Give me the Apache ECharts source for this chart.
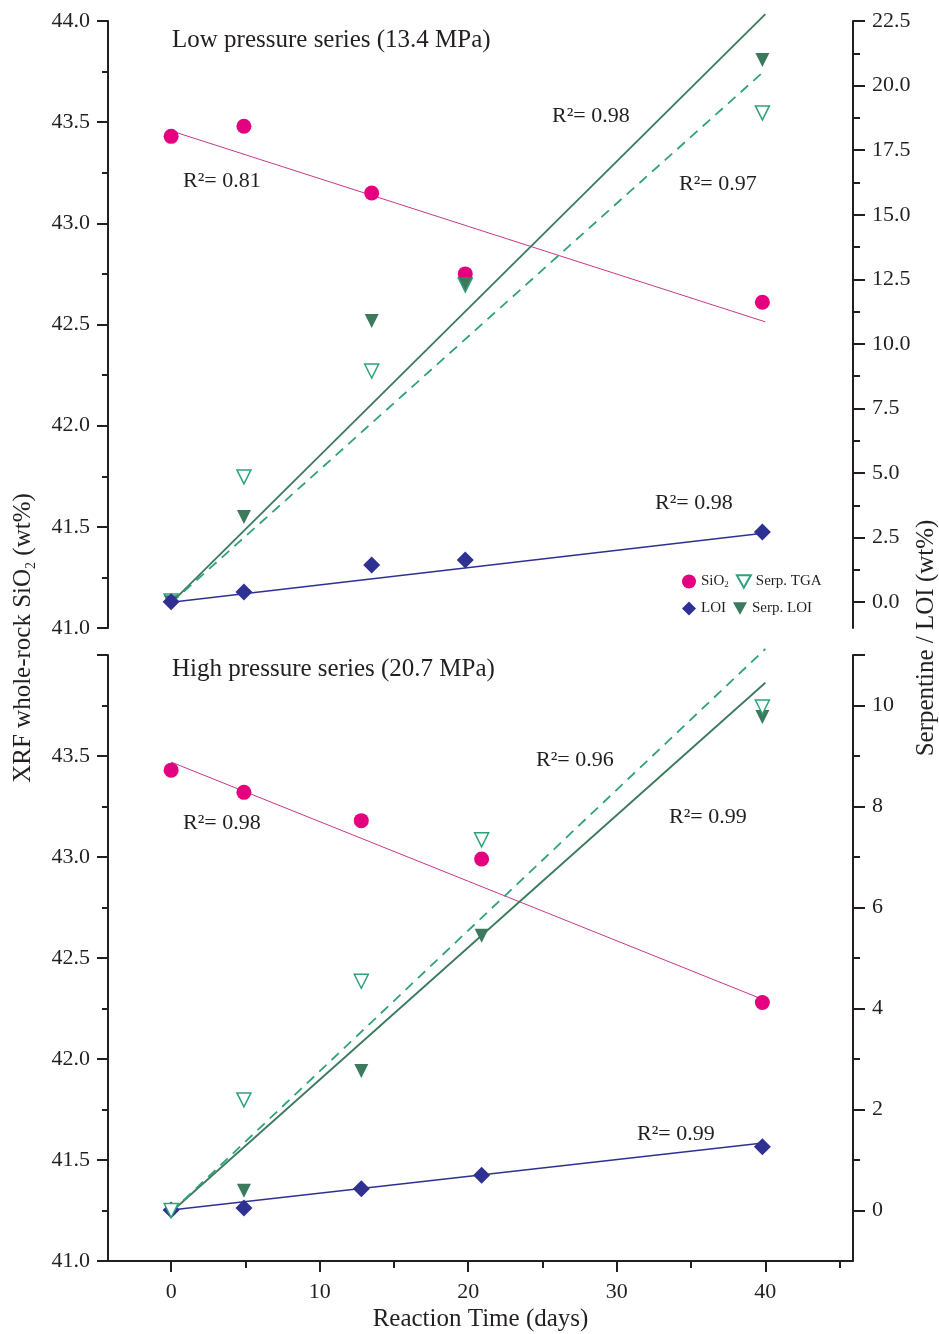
<!DOCTYPE html>
<html><head><meta charset="utf-8">
<script src="https://cdn.jsdelivr.net/npm/echarts@6/dist/echarts.min.js"></script>
<style>html,body{margin:0;padding:0;background:#fff}#c{width:939px;height:1334px}</style>
</head><body><div id="c"></div>
<script>
// ---- data ----
const lowDays = [0, 4.9, 13.5, 19.8, 39.8];
const lowSiO2 = [43.43, 43.48, 43.15, 42.75, 42.61];
const lowLOI = [0.02, 0.39, 1.44, 1.63, 2.72];
const lowSerpTGA = [0.05, 4.85, 8.95, 12.28, 18.94];
const lowSerpLOI = [0.0, 3.30, 10.89, 12.32, 20.99];

const highDays = [0, 4.9, 12.8, 20.9, 39.8];
const highSiO2 = [43.43, 43.32, 43.18, 42.99, 42.28];
const highLOI = [0.01, 0.05, 0.43, 0.70, 1.26];
const highSerpTGA = [0.0, 2.19, 4.54, 7.34, 9.97];
const highSerpLOI = [0.0, 0.39, 2.76, 5.44, 9.77];

// fitted trend lines, value at day 0 and day 40
const fitDays = [0, 40];
const lowFitSiO2 = [43.457, 42.513];
const lowFitLOI = [0.0, 2.68];
const lowFitSerpLOI = [-0.03, 22.77];
const lowFitSerpTGA = [-0.03, 20.6];
const highFitSiO2 = [43.47, 42.29];
const highFitLOI = [0.01, 1.34];
const highFitSerpLOI = [-0.03, 10.45];
const highFitSerpTGA = [-0.03, 11.12];

// tick labels
const xMajor = [0, 10, 20, 30, 40];
const xMinor = [5, 15, 25, 35, 45];
const lowRightMajor = [0, 2.5, 5, 7.5, 10, 12.5, 15, 17.5, 20, 22.5];
const lowRightMinor = [1.25, 3.75, 6.25, 8.75, 11.25, 13.75, 16.25, 18.75, 21.25];
const highRightLabels = [0, 2, 4, 6, 8, 10];
const highRightMajor = [0, 2, 4, 6, 8, 10, 11];
const highRightMinor = [1, 3, 5, 7, 9];

const lowR2 = ['R²= 0.81', 'R²= 0.98', 'R²= 0.97', 'R²= 0.98'];
const highR2 = ['R²= 0.98', 'R²= 0.96', 'R²= 0.99', 'R²= 0.99'];

// ---- styling ----
const FONT = 'Liberation Serif';
const AX = '#231f20';
const C_SIO2 = '#e4007f', C_SIO2_LINE = '#c8388a';
const C_LOI = '#2e3192';
const C_SLOI = '#3b7a5c';
const C_STGA = '#2fa27a';

const pair = (xs, ys) => xs.map((x, i) => [x, ys[i]]);

const grids = [
  {left: 108, right: 86, top: 21, height: 607, outerBoundsMode: 'none', containLabel: false},
  {left: 108, right: 86, top: 655, height: 606, outerBoundsMode: 'none', containLabel: false}
];

const xBase = {type: 'value', min: -4.25, max: 45.9, splitLine: {show: false}};
const xAxes = [
  Object.assign({}, xBase, {gridIndex: 0, show: false}),
  Object.assign({}, xBase, {
    gridIndex: 1, position: 'bottom',
    axisLine: {show: true, onZero: false, lineStyle: {color: AX, width: 2}},
    axisTick: {show: true, inside: false, length: 11, customValues: xMajor, lineStyle: {color: AX, width: 2}},
    axisLabel: {show: true, customValues: xMajor, margin: 20, color: AX, fontFamily: FONT, fontSize: 22},
    name: 'Reaction Time (days)', nameLocation: 'middle', nameGap: 46,
    nameTextStyle: {color: AX, fontFamily: FONT, fontSize: 25}
  }),
  Object.assign({}, xBase, {
    gridIndex: 1, position: 'bottom',
    axisLine: {show: false, onZero: false},
    axisTick: {show: true, length: 7, customValues: xMinor, lineStyle: {color: AX, width: 2}},
    axisLabel: {show: false}
  })
];

function leftAxis(gi, showMax) {
  return {
    type: 'value', gridIndex: gi, position: 'left', min: 41, max: 44, interval: 0.5,
    splitLine: {show: false},
    axisLine: {show: true, onZero: false, lineStyle: {color: AX, width: 2}},
    axisTick: {show: true, length: 11, lineStyle: {color: AX, width: 2}},
    minorTick: {show: true, splitNumber: 2, length: 6, lineStyle: {color: AX, width: 2}},
    axisLabel: {color: AX, fontFamily: FONT, fontSize: 22, margin: 18, showMaxLabel: showMax,
      formatter: v => v.toFixed(1)}
  };
}
function rightAxis(gi, min, max, major, labels, dec) {
  return {
    type: 'value', gridIndex: gi, position: 'right', offset: 0, min: min, max: max,
    splitLine: {show: false},
    axisLine: {show: true, onZero: false, lineStyle: {color: AX, width: 2}},
    axisTick: {show: true, length: 12, customValues: major, lineStyle: {color: AX, width: 2}},
    axisLabel: {color: AX, fontFamily: FONT, fontSize: 22, margin: 19, customValues: labels,
      formatter: v => v.toFixed(dec)}
  };
}
function rightMinor(gi, min, max, minor) {
  return {
    type: 'value', gridIndex: gi, position: 'right', offset: 0, min: min, max: max,
    splitLine: {show: false},
    axisLine: {show: false, onZero: false},
    axisTick: {show: true, length: 7, customValues: minor, lineStyle: {color: AX, width: 2}},
    axisLabel: {show: false}
  };
}

const yAxes = [
  leftAxis(0, true),
  rightAxis(0, -1, 22.5, lowRightMajor, lowRightMajor, 1),
  leftAxis(1, false),
  rightAxis(1, -1, 11, highRightMajor, highRightLabels, 0),
  rightMinor(0, -1, 22.5, lowRightMinor),
  rightMinor(1, -1, 11, highRightMinor)
];

function fitLine(xi, yi, vals, color, width, type) {
  return {type: 'line', xAxisIndex: xi, yAxisIndex: yi, data: pair(fitDays, vals),
    symbol: 'none', clip: false, silent: true, z: 2,
    lineStyle: {color: color, width: width, type: type}};
}
function pts(name, xi, yi, days, vals, symbol, size, style, rot) {
  return {type: 'scatter', name: name, xAxisIndex: xi, yAxisIndex: yi, data: pair(days, vals),
    symbol: symbol, symbolSize: size, symbolRotate: rot || 0, itemStyle: style, z: 5, clip: false};
}
const sSiO2 = {color: C_SIO2, opacity: 1};
const sLOI = {color: C_LOI, opacity: 1};
const sSLOI = {color: C_SLOI, opacity: 1};
const sSTGA = {color: '#ffffff', borderColor: C_STGA, borderWidth: 1.5, opacity: 1};

const series = [
  // low pressure
  fitLine(0, 0, lowFitSiO2, C_SIO2_LINE, 1, 'solid'),
  fitLine(0, 1, lowFitLOI, C_LOI, 1.5, 'solid'),
  fitLine(0, 1, lowFitSerpLOI, C_SLOI, 1.8, 'solid'),
  fitLine(0, 1, lowFitSerpTGA, C_STGA, 1.8, [10, 7]),
  pts('SiO2', 0, 0, lowDays, lowSiO2, 'circle', 15, sSiO2),
  pts('Serp. TGA', 0, 1, lowDays, lowSerpTGA, 'triangle', 14, sSTGA, 180),
  pts('Serp. LOI', 0, 1, lowDays, lowSerpLOI, 'triangle', 14, sSLOI, 180),
  pts('LOI', 0, 1, lowDays, lowLOI, 'diamond', 17, sLOI),
  // high pressure
  fitLine(1, 2, highFitSiO2, C_SIO2_LINE, 1, 'solid'),
  fitLine(1, 3, highFitLOI, C_LOI, 1.5, 'solid'),
  fitLine(1, 3, highFitSerpLOI, C_SLOI, 1.8, 'solid'),
  fitLine(1, 3, highFitSerpTGA, C_STGA, 1.8, [10, 7]),
  pts('SiO2', 1, 2, highDays, highSiO2, 'circle', 15, sSiO2),
  pts('LOI', 1, 3, highDays, highLOI, 'diamond', 17, sLOI),
  pts('Serp. LOI', 1, 3, highDays, highSerpLOI, 'triangle', 14, sSLOI, 180),
  pts('Serp. TGA', 1, 3, highDays, highSerpTGA, 'triangle', 14, sSTGA, 180)
];

const DOWN_TRI = 'path://M0,0 L20,0 L10,18 Z';
const legendText = {color: AX, fontFamily: FONT, fontSize: 15, width: 30,
  rich: {n: {fontFamily: FONT, fontSize: 15, color: AX},
         s: {fontFamily: FONT, fontSize: 9, color: AX, verticalAlign: 'bottom', padding: [7, 0, 0, 0]}}};
const legendFmt = n => n === 'SiO2' ? '{n|SiO}{s|2}' : n;
const legendBase = {orient: 'horizontal', itemWidth: 14, itemHeight: 14, itemGap: 7, padding: 0,
  selectedMode: false, textStyle: legendText, formatter: legendFmt};
const legends = [
  Object.assign({}, legendBase, {left: 682, top: 574,
    data: [{name: 'SiO2', icon: 'circle'}, {name: 'Serp. TGA', icon: DOWN_TRI}]}),
  Object.assign({}, legendBase, {left: 682, top: 601,
    data: [{name: 'LOI', icon: 'diamond'}, {name: 'Serp. LOI', icon: DOWN_TRI}]})
];

function txt(x, y, s, size, align) {
  return {type: 'text', x: x, y: y, silent: true,
    style: {text: s, fill: AX, font: size + 'px "' + FONT + '"', textAlign: align || 'left', textVerticalAlign: 'middle'}};
}
const graphics = [
  txt(172, 40, 'Low pressure series (13.4 MPa)', 25),
  txt(172, 669, 'High pressure series (20.7 MPa)', 25),
  txt(183, 181, lowR2[0], 22), txt(552, 116, lowR2[1], 22), txt(679, 184, lowR2[2], 22), txt(655, 503, lowR2[3], 22),
  txt(183, 823, highR2[0], 22), txt(536, 760, highR2[1], 22), txt(669, 817, highR2[2], 22), txt(637, 1134, highR2[3], 22),
  {type: 'text', x: 23, y: 638, rotation: Math.PI / 2, silent: true,
   style: {text: '{n|XRF whole-rock SiO}{s|2}{n| (wt%)}', fill: AX, textAlign: 'center', textVerticalAlign: 'middle',
     rich: {n: {fontFamily: FONT, fontSize: 25, fill: AX, lineHeight: 30},
            s: {fontFamily: FONT, fontSize: 14, fill: AX, lineHeight: 30, verticalAlign: 'bottom'}}}},
  {type: 'text', x: 926, y: 638, rotation: Math.PI / 2, silent: true,
   style: {text: 'Serpentine / LOI (wt%)', fill: AX, font: '25px "' + FONT + '"', textAlign: 'center', textVerticalAlign: 'middle'}}
];

const chart = echarts.init(document.getElementById('c'), null, {renderer: 'canvas'});
chart.setOption({
  backgroundColor: '#ffffff',
  animation: false,
  grid: grids,
  xAxis: xAxes,
  yAxis: yAxes,
  legend: legends,
  series: series,
  graphic: graphics
});
</script></body></html>
